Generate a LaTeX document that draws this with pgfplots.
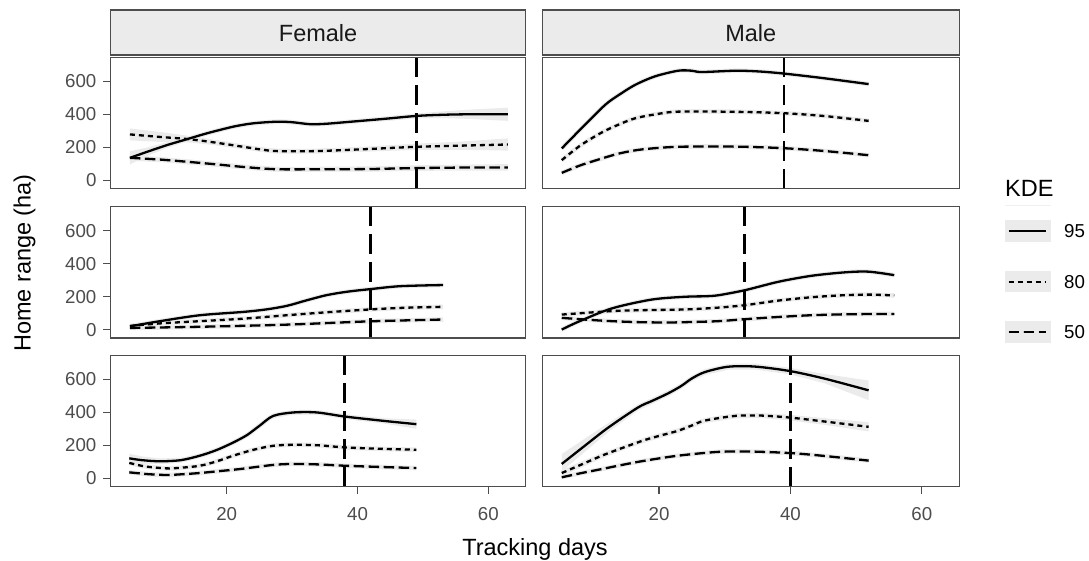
\documentclass[border=0pt]{standalone}
\usepackage{fontspec}
\setmainfont{Liberation Sans}
\usepackage{pgfplots}
\usepackage{pgfplotstable}
\pgfplotsset{compat=1.18}

\definecolor{band}{HTML}{EBEBEB}
\definecolor{frame}{HTML}{4D4D4D}
\newcommand\tickfont{\fontsize{18.7}{20}\selectfont}
\newcommand\titlefont{\fontsize{23.5}{26}\selectfont}

% ---- Female, row 1 ----
\pgfplotstableread{
x y
5.2 136
8 175
11 215
14 250
17 285
21 325
24 345
27.6 355
30 352
32.7 340
35 342
39 355
44 372
49 390
53 397
57 400
63 400
}\FoneS
\pgfplotstableread{
x y
5.2 278
10 262
14 250
18 230
22.5 203
25 188
27.6 177
33.7 177
41.4 189
49 203
56 210
63 217
}\FoneD
\pgfplotstableread{
x y
5.2 136
10 125
14 112
18 98
22.5 81
27.6 67
35 67
41.4 68
49 74
56 77
63 78
}\FoneL
% ribbons (upper edge, then lower edge back)
\pgfplotstableread{
x y
5.2 176
8 200
11 232
14 263
17 297
21 337
24 357
27.6 367
30 364
32.7 352
35 354
39 367
44 385
49 405
53 417
57 428
63 440
63 360
57 372
53 377
49 375
44 359
39 343
35 330
32.7 328
30 340
27.6 343
24 333
21 313
17 273
14 237
11 198
8 150
5.2 96
}\FoneSb
\pgfplotstableread{
x y
5.2 314
10 292
14 270
18 246
22.5 218
25 202
27.6 191
33.7 191
41.4 204
49 222
56 235
63 254
63 180
56 185
49 184
41.4 174
33.7 163
27.6 163
25 174
22.5 188
18 214
14 230
10 232
5.2 242
}\FoneDb
\pgfplotstableread{
x y
5.2 152
10 140
14 127
18 113
22.5 96
27.6 82
35 82
41.4 84
49 91
56 95
63 98
63 58
56 59
49 57
41.4 52
35 52
27.6 52
22.5 66
18 83
14 97
10 110
5.2 118
}\FoneLb

% ---- Female, row 2 ----
\pgfplotstableread{
x y
5.2 20
9.8 51
15.9 87
22.5 107
26 122
29.2 144
32 175
35.3 209
38.5 230
41.9 245
46.5 263
53.1 270
}\FtwoS
\pgfplotstableread{
x y
5.2 22
10 38
15.9 51
22.5 66
29.2 87
35.3 105
41.9 122
47 132
53.1 138
}\FtwoD
\pgfplotstableread{
x y
5.2 10
15.9 17
29.2 30
41.9 50
53.1 61
}\FtwoL

% ---- Female, row 3 ----
\pgfplotstableread{
x y
5.1 121
7 110
9.8 103
13 110
15.9 137
18.5 172
21 217
23.1 262
25 318
27.1 378
30.2 399
33.8 399
38.1 374
44 348
49 328
}\FthreeS
\pgfplotstableread{
x y
5.1 93
7.5 72
10.8 60
13 64
15.9 76
18.5 103
21 137
24 172
27.1 197
30.2 203
34 200
38.1 187
44 178
49 173
}\FthreeD
\pgfplotstableread{
x y
5.1 36
8 25
10.8 20
13 24
15.9 32
19 44
22 56
27.1 81
30.2 87
34 84
38.1 76
44 68
49 62
}\FthreeL
\pgfplotstableread{
x y
5.1 149
7 133
9.8 120
13 124
15.9 150
18.5 185
21 230
23.1 275
25 331
27.1 391
30.2 412
33.8 412
38.1 388
44 364
49 356
49 300
44 332
38.1 360
33.8 386
30.2 386
27.1 365
25 305
23.1 249
21 204
18.5 159
15.9 124
13 96
9.8 86
7 87
5.1 93
}\FthreeSb

% ---- Male, row 1 ----
\pgfplotstableread{
x y
5.2 193
8.2 315
11.8 457
14 520
16.4 579
19.4 630
22.9 664
25 664
26.5 656
31.6 664
35 660
38.7 648
44.8 620
51.9 583
}\MoneS
\pgfplotstableread{
x y
5.2 122
8 210
11.3 290
14 340
16.4 376
19.5 400
22.9 416
31.6 415
38.7 407
45 390
51.9 360
}\MoneD
\pgfplotstableread{
x y
5.2 45
8 90
11.3 132
14 163
17.4 187
22.9 203
31.6 204
38.7 195
45 178
51.9 152
}\MoneL

% ---- Male, row 2 ----
\pgfplotstableread{
x y
5.2 0
7.7 47
12.8 128
18.9 182
24 199
27 202
29 208
33.1 239
38.2 290
43.2 326
48.3 347
51.9 351
55.8 330
}\MtwoS
\pgfplotstableread{
x y
5.2 91
12.8 112
18 118
24 122
29 133
33.1 148
38 175
43.2 196
48 208
51.9 212
55.8 207
}\MtwoD
\pgfplotstableread{
x y
5.2 71
9 60
12.8 51
17 45
21.4 43
25 46
29 51
33.1 63
38 76
43.2 87
49 93
55.8 95
}\MtwoL

% ---- Male, row 3 ----
\pgfplotstableread{
x y
5.2 87
8.7 197
12.3 308
16.8 429
19 470
21.4 515
23.4 560
25 605
27 644
30.5 676
34.6 677
39.9 650
45.2 604
51.9 533
}\MthreeS
\pgfplotstableread{
x y
5.2 32
8 80
11.3 137
14.5 185
17.9 233
20.5 262
22.9 288
25 320
27 350
31.6 378
35.6 380
39.9 368
45 345
51.9 312
}\MthreeD
\pgfplotstableread{
x y
5.2 6
8 30
11.3 56
14.5 82
17.9 107
22.9 137
29 160
34 162
39.9 153
45 136
51.9 107
}\MthreeL
\pgfplotstableread{
x y
5.2 147
8.7 240
12.3 335
16.8 447
19 488
21.4 532
23.4 577
25 622
27 662
30.5 694
34.6 695
39.9 670
45.2 632
51.9 593
51.9 473
45.2 576
39.9 630
34.6 659
30.5 658
27 626
25 588
23.4 543
21.4 498
19 452
16.8 411
12.3 281
8.7 160
5.2 42
}\MthreeSb
\pgfplotstableread{
x y
5.2 52
8 98
11.3 153
14.5 200
17.9 248
20.5 277
22.9 303
25 335
27 365
31.6 393
35.6 395
39.9 385
45 365
51.9 340
51.9 284
45 325
39.9 351
35.6 365
31.6 363
27 335
25 305
22.9 273
20.5 247
17.9 218
14.5 170
11.3 121
8 62
5.2 12
}\MthreeDb

% ---- legend keys (in picture points) ----
\pgfplotstableread{
x y
1005 318.2
1051 318.2
1051 339.6
1005 339.6
}\KeyA
\pgfplotstableread{
x y
1005 267.6
1051 267.6
1051 289
1005 289
}\KeyB
\pgfplotstableread{
x y
1005 217.4
1051 217.4
1051 238.8
1005 238.8
}\KeyC

\pgfplotsset{
  panel/.style={
    scale only axis, height=131.5pt, anchor=south west,
    xmin=2.24, xmax=65.7, ymin=-51, ymax=746,
    axis on top,
    axis line style={draw=frame, line width=1.2pt},
    tick style={draw=frame, line width=1.2pt},
    tick align=outside, major tick length=7.5pt,
    xtick pos=bottom, ytick pos=left,
    xtick={20,40,60}, ytick={0,200,400,600},
    ticklabel style={font=\tickfont, text=black!70},
    yticklabel style={anchor=east, inner sep=0pt, xshift=-6.5pt},
    xticklabel style={anchor=north, inner sep=0pt, yshift=-12.8pt},
    /pgf/number format/assume math mode=true,
  },
  nox/.style={xtick=\empty},
  noy/.style={ytick=\empty},
  k95/.style={black, line width=2.3pt, smooth},
  k80/.style={black, line width=2.3pt, smooth, dash pattern=on 5pt off 4pt},
  k50/.style={black, line width=2.3pt, smooth, dash pattern=on 10.5pt off 4.5pt},
  vl/.style={black, line width=2.6pt, dash pattern=on 20pt off 8pt},
  rib/.style={fill=band, draw=none},
  bandline/.style={band, line width=4.5pt, smooth},
}

\newcommand\drawcurves[4]{%
  \addplot[bandline] table {#1};
  \addplot[bandline] table {#2};
  \addplot[bandline] table {#3};
  \addplot[k95] table {#1};
  \addplot[k80] table {#2};
  \addplot[k50] table {#3};
  \addplot[vl] coordinates {(#4,746) (#4,-51)};
}

\begin{document}
\begin{tikzpicture}[x=1pt,y=1pt]

% Female, row 1
\begin{axis}[panel, nox, width=415pt, at={(110.6pt,371.3pt)}]
  \addplot[rib] table {\FoneSb};
  \addplot[rib] table {\FoneDb};
  \addplot[rib] table {\FoneLb};
  \drawcurves{\FoneS}{\FoneD}{\FoneL}{49}
\end{axis}
% Male, row 1
\begin{axis}[panel, nox, noy, width=417pt, at={(542.3pt,371.3pt)}]
  \drawcurves{\MoneS}{\MoneD}{\MoneL}{39}
\end{axis}
% Female, row 2
\begin{axis}[panel, nox, width=415pt, at={(110.6pt,222pt)}]
  \drawcurves{\FtwoS}{\FtwoD}{\FtwoL}{42}
\end{axis}
% Male, row 2
\begin{axis}[panel, nox, noy, width=417pt, at={(542.3pt,222pt)}]
  \drawcurves{\MtwoS}{\MtwoD}{\MtwoL}{33}
\end{axis}
% Female, row 3
\begin{axis}[panel, width=415pt, at={(110.6pt,73.3pt)}]
  \addplot[rib] table {\FthreeSb};
  \drawcurves{\FthreeS}{\FthreeD}{\FthreeL}{38}
\end{axis}
% Male, row 3
\begin{axis}[panel, noy, width=417pt, at={(542.3pt,73.3pt)}]
  \addplot[rib] table {\MthreeSb};
  \addplot[rib] table {\MthreeDb};
  \drawcurves{\MthreeS}{\MthreeD}{\MthreeL}{40}
\end{axis}

% legend keys, drawn in an axis whose units are picture points
\begin{axis}[scale only axis, hide axis, clip=false, anchor=south west,
  at={(1000pt,200pt)}, width=89pt, height=200pt,
  xmin=1000, xmax=1089, ymin=200, ymax=400]
  \addplot[rib] table {\KeyA};
  \addplot[rib] table {\KeyB};
  \addplot[rib] table {\KeyC};
  \addplot[black!6, line width=1pt] coordinates {(1005,354) (1051,354)};
  \addplot[k95] coordinates {(1008.6,328.9) (1046,328.9)};
  \addplot[k80] coordinates {(1008.6,278.3) (1046,278.3)};
  \addplot[k50] coordinates {(1008.6,228.1) (1046,228.1)};
\end{axis}
\node[anchor=west, font=\tickfont, inner sep=0pt] at (1064,328.9) {95};
\node[anchor=west, font=\tickfont, inner sep=0pt] at (1064,278.3) {80};
\node[anchor=west, font=\tickfont, inner sep=0pt] at (1064,228.1) {50};
\node[anchor=base west, font=\titlefont, inner sep=0pt] at (1005,363.5) {KDE};

% facet strips
\draw[fill=band, draw=frame, line width=1.2pt] (110.6,505) rectangle (525.6,550);
\draw[fill=band, draw=frame, line width=1.2pt] (542.3,505) rectangle (959.3,550);
\node[anchor=base, font=\titlefont, text=black!90, inner sep=0pt] at (318.1,518) {Female};
\node[anchor=base, font=\titlefont, text=black!90, inner sep=0pt] at (750.8,518) {Male};

% axis titles
\node[anchor=base, rotate=90, font=\titlefont, inner sep=0pt] at (30.5,297) {Home range (ha)};
\node[anchor=base, font=\titlefont, inner sep=0pt] at (535,5) {Tracking days};

\pgfresetboundingbox
\useasboundingbox (0,0) rectangle (1089,560);
\end{tikzpicture}
\end{document}
